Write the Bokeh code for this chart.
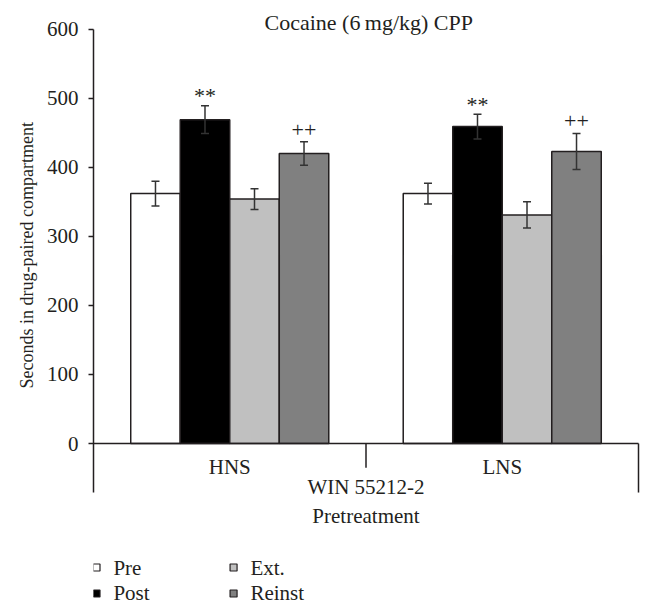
from bokeh.plotting import figure
from bokeh.models import Range1d, FixedTicker, ColumnDataSource, Whisker, TeeHead, Title
from bokeh.core.properties import value
from bokeh.embed import file_html
from bokeh.resources import INLINE

# ---------------- data ----------------
groups = ["HNS", "LNS"]
series = ["Pre", "Post", "Ext.", "Reinst"]
colors = ["#ffffff", "#000000", "#c0c0c0", "#808080"]
pre = [362, 362]
post = [469, 459]
ext = [354, 331]
reinst = [420, 423]
pre_err = [18, 15]
post_err = [20, 18]
ext_err = [15, 19]
reinst_err = [17, 26]
marks = ["", "**", "", "++"]
y_ticks = [0, 100, 200, 300, 400, 500, 600]
title_text = "Cocaine (6\u2009mg/kg) CPP"
y_label = "Seconds in drug-paired compartment"
group_title = "WIN 55212-2"
x_label = "Pretreatment"

values = [pre, post, ext, reinst]
errors = [pre_err, post_err, ext_err, reinst_err]

# ---------------- style ----------------
FONT = "Liberation Serif"
INK = "#231f20"
FS = "21px"
px_per_unit_x = 272.5
frame_w = 552

p = figure(width=645, height=607,
           x_range=Range1d(0, frame_w / px_per_unit_x),
           y_range=Range1d(-237.5, 641.6),
           output_backend="svg", toolbar_location=None,
           x_axis_location=None,
           min_border_left=93, min_border_right=0,
           min_border_top=0, min_border_bottom=0)
p.outline_line_color = None
p.xgrid.visible = False
p.ygrid.visible = False

ax = p.yaxis[0]
ax.ticker = FixedTicker(ticks=y_ticks)
ax.bounds = (-71, max(y_ticks))
ax.major_tick_out = 5
ax.major_tick_in = 0
ax.minor_tick_line_color = None
ax.axis_line_color = INK
ax.axis_line_width = 1.5
ax.major_tick_line_color = INK
ax.major_tick_line_width = 1.5
ax.major_label_text_font = FONT
ax.major_label_text_font_size = FS
ax.major_label_text_color = INK
ax.major_label_standoff = 10

p.add_layout(Title(text=y_label, align="left", offset=219,
                   text_font=FONT, text_font_size="18px", text_font_style="normal",
                   text_color=INK, standoff=13), "left")

bw = 0.1817
n = len(series)
for k, name in enumerate(series):
    xs = [gi + 0.5 + (k - (n - 1) / 2) * bw for gi in range(len(groups))]
    tops = values[k]
    ups = [v + e for v, e in zip(values[k], errors[k])]
    los = [v - e for v, e in zip(values[k], errors[k])]
    src = ColumnDataSource(dict(x=xs, top=tops, upper=ups, lower=los,
                                mark=[marks[k]] * len(groups)))
    p.vbar(x="x", top="top", bottom=0, width=bw, source=src,
           fill_color=colors[k], line_color=INK, line_width=1.5)
    w = Whisker(base="x", upper="upper", lower="lower", source=src,
                dimension="height", line_color="#333333", line_width=1.5,
                level="overlay",
                upper_head=TeeHead(size=8, line_color="#333333", line_width=1.5),
                lower_head=TeeHead(size=8, line_color="#333333", line_width=1.5))
    p.add_layout(w)
    if marks[k]:
        off = -10 if marks[k] == "**" else -12
        p.text(x="x", y="upper", text="mark", source=src,
               text_align="center", text_baseline="alphabetic", y_offset=off,
               text_font=value(FONT), text_font_size="22px", text_color=INK)

ng = len(groups)
# category baseline and separators
p.segment(x0=[0], y0=[0], x1=[ng], y1=[0], line_color=INK, line_width=1.5)
p.segment(x0=list(range(1, ng)), y0=[0] * (ng - 1),
          x1=list(range(1, ng)), y1=[-35] * (ng - 1),
          line_color=INK, line_width=1.5)
p.segment(x0=[ng], y0=[0], x1=[ng], y1=[-71], line_color=INK, line_width=1.5)

p.text(x=[gi + 0.5 for gi in range(ng)], y=[-34] * ng, text=groups,
       text_align="center", text_baseline="middle",
       text_font=value(FONT), text_font_size=FS, text_color=INK)
p.text(x=[ng / 2], y=[-63], text=[group_title],
       text_align="center", text_baseline="middle",
       text_font=value(FONT), text_font_size=FS, text_color=INK)
p.text(x=[ng / 2], y=[-105], text=[x_label],
       text_align="center", text_baseline="middle",
       text_font=value(FONT), text_font_size=FS, text_color=INK)
p.text(x=[ng / 2 + 0.01], y=[610], text=[title_text],
       text_align="center", text_baseline="middle",
       text_font=value(FONT), text_font_size="22px", text_color=INK)

# legend (2 columns x 2 rows)
lx = [0.011 + (k // 2) * 0.503 for k in range(n)]
ly = [-179.6 - (k % 2) * 37.6 for k in range(n)]
p.scatter(x=lx, y=ly, marker="square", size=7, fill_color=colors,
          line_color=INK, line_width=1.2)
p.text(x=[v + 0.062 for v in lx], y=ly, text=series,
       text_align="left", text_baseline="middle",
       text_font=value(FONT), text_font_size=FS, text_color=INK)

open("out.html", "w").write(file_html(p, INLINE))
